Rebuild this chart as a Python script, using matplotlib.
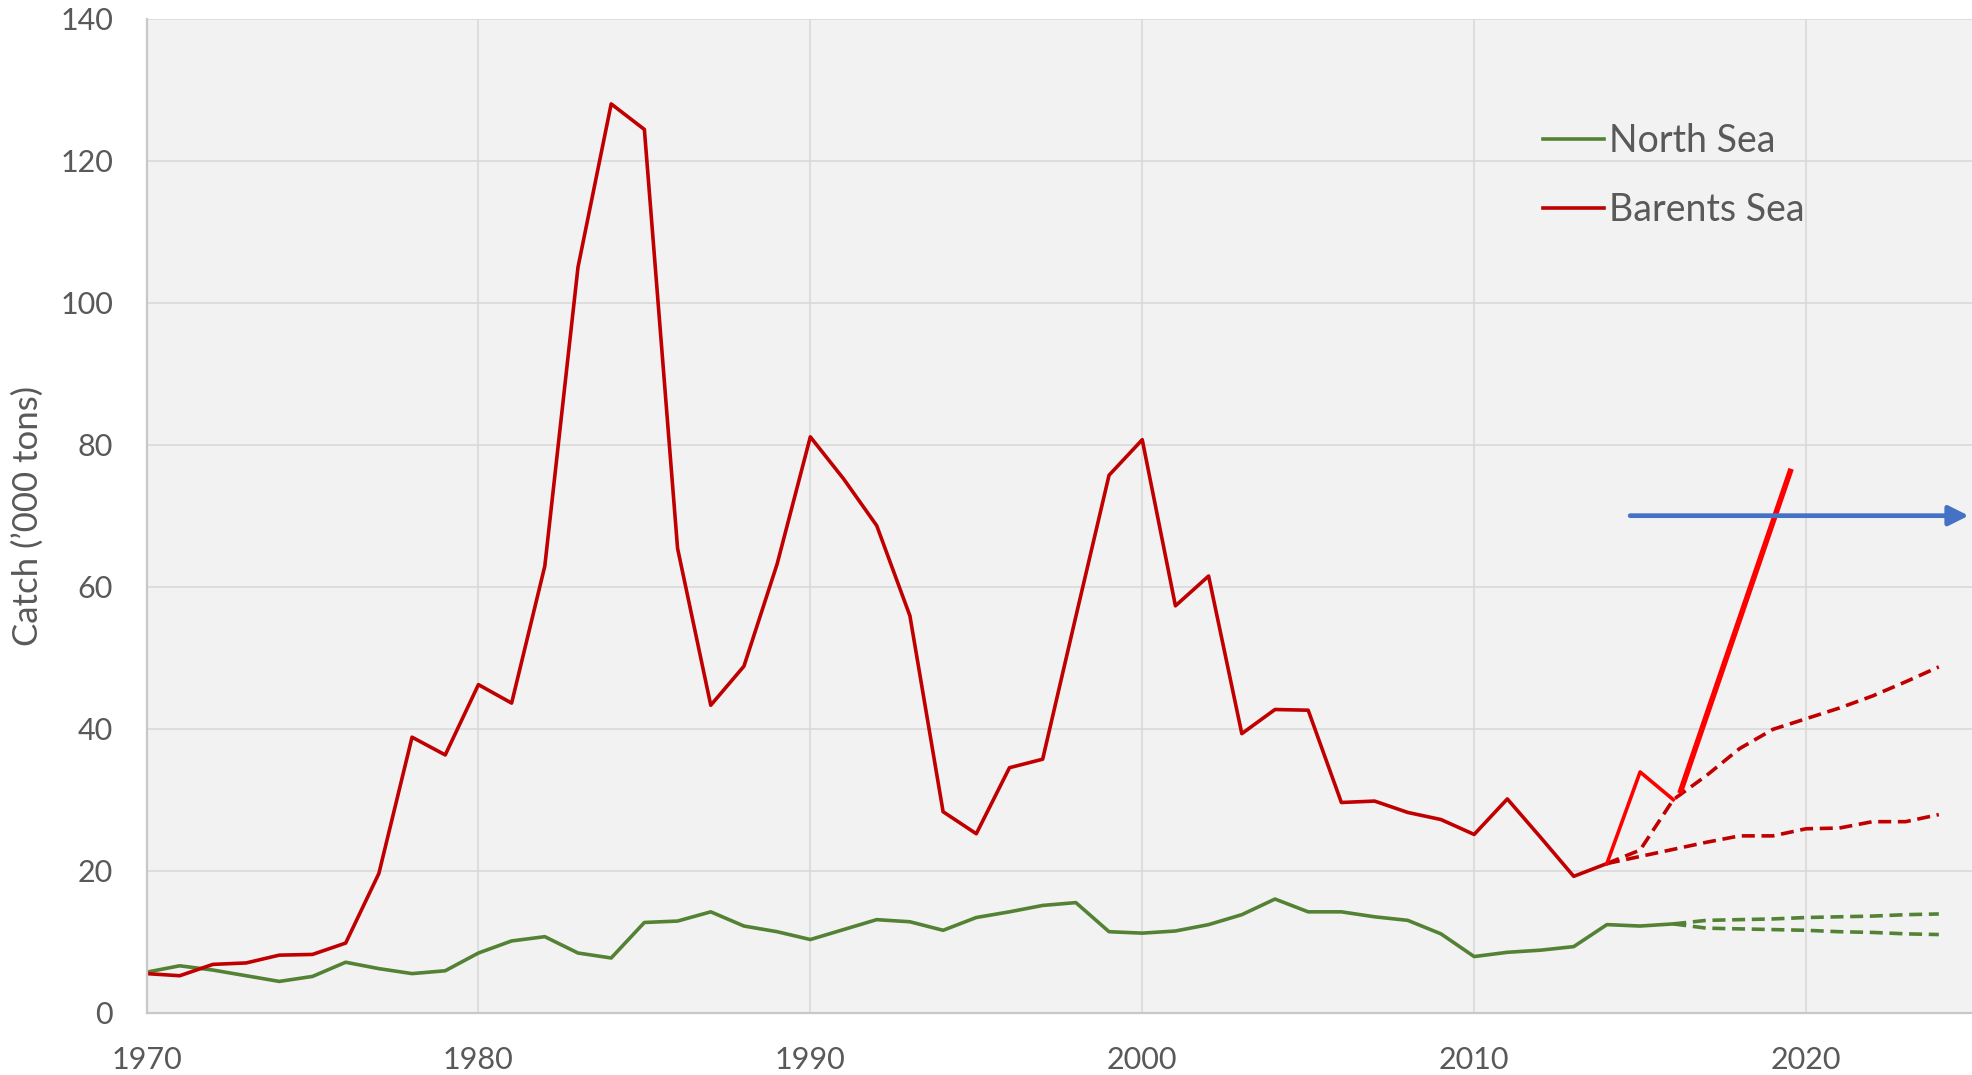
import matplotlib
matplotlib.use("Agg")
import matplotlib.pyplot as plt

plt.rcParams['font.family'] = ['Lato', 'DejaVu Sans']

# ---------------- data ----------------
years_hist = list(range(1970, 2015))
barents_hist = [5.5, 5.2, 6.8, 7.0, 8.1, 8.2, 9.8, 19.6, 38.8, 36.3,
                46.2, 43.6, 62.9, 105.0, 128.0, 124.4, 65.4, 43.3, 48.8, 63.2,
                81.1, 75.2, 68.6, 55.9, 28.3, 25.2, 34.5, 35.7, 55.8, 75.7,
                80.7, 57.3, 61.5, 39.3, 42.7, 42.6, 29.6, 29.8, 28.2, 27.2,
                25.1, 30.1, 24.7, 19.2, 21.0]

years_recent = [2014, 2015, 2016]
barents_recent = [21.0, 33.9, 30.0]

years_proj_b = list(range(2014, 2025))
barents_proj_high = [21.0, 22.9, 30.0, 33.4, 37.2, 39.9, 41.4, 42.9, 44.6, 46.6, 48.7]
barents_proj_low = [21.0, 22.0, 23.0, 24.0, 24.9, 24.9, 25.9, 26.0, 26.9, 26.9, 27.9]

years_north = list(range(1970, 2017))
north_sea = [5.7, 6.6, 6.0, 5.2, 4.4, 5.1, 7.1, 6.2, 5.5, 5.9,
             8.4, 10.1, 10.7, 8.4, 7.7, 12.7, 12.9, 14.2, 12.2, 11.4,
             10.3, 11.7, 13.1, 12.8, 11.6, 13.4, 14.2, 15.1, 15.5, 11.4,
             11.2, 11.5, 12.4, 13.8, 16.0, 14.2, 14.2, 13.5, 13.0, 11.1,
             7.9, 8.5, 8.8, 9.3, 12.4, 12.2, 12.5]

years_proj_n = list(range(2016, 2025))
north_proj_high = [12.5, 13.0, 13.1, 13.2, 13.4, 13.5, 13.6, 13.8, 13.9]
north_proj_low = [12.5, 11.9, 11.8, 11.7, 11.6, 11.4, 11.3, 11.1, 11.0]

# annotation strokes (data coordinates)
red_stroke_x = [2016.2, 2019.55]
red_stroke_y = [30.9, 76.6]
blue_arrow_x = [2014.7, 2024.9]
blue_arrow_y = [70.0, 70.0]

x_ticks = [1970, 1980, 1990, 2000, 2010, 2020]
y_ticks = [0, 20, 40, 60, 80, 100, 120, 140]
legend_labels = ["North Sea", "Barents Sea"]
y_label = "Catch (\u2019000 tons)"

# ---------------- styling ----------------
DARK_RED = "#C00000"
BRIGHT_RED = "#FF0000"
GREEN = "#548235"
BLUE = "#4472C4"
TXT = "#595959"
GRID = "#D9D9D9"

fig = plt.figure(figsize=(19.72, 10.75), dpi=100)
fig.patch.set_facecolor("white")
ax = fig.add_axes([0.0743, 0.058, 1 - 0.0743, 0.9826 - 0.058])
ax.set_facecolor("#F2F2F2")

ax.set_xlim(1970, 2025)
ax.set_ylim(0, 140)
ax.set_xticks(x_ticks)
ax.set_yticks(y_ticks)
ax.grid(True, color=GRID, linewidth=1.2)
ax.set_axisbelow(True)
for s in ["top", "right"]:
    ax.spines[s].set_visible(False)
for s in ["left", "bottom"]:
    ax.spines[s].set_color("#C8C8C8")
    ax.spines[s].set_linewidth(1.6)
ax.tick_params(axis="both", length=0, labelsize=22, labelcolor=TXT)
ax.tick_params(axis="y", pad=24)
ax.tick_params(axis="x", pad=24)

lw = 2.6
dash = (0, (3.6, 1.85))

# projections
ax.plot(years_proj_b, barents_proj_high, color=DARK_RED, lw=lw, linestyle=dash, dash_capstyle="butt")
ax.plot(years_proj_b, barents_proj_low, color=DARK_RED, lw=lw, linestyle=dash, dash_capstyle="butt")
ax.plot(years_proj_n, north_proj_high, color=GREEN, lw=lw, linestyle=dash, dash_capstyle="butt")
ax.plot(years_proj_n, north_proj_low, color=GREEN, lw=lw, linestyle=dash, dash_capstyle="butt")

# history
ln_n, = ax.plot(years_north, north_sea, color=GREEN, lw=lw)
ln_b, = ax.plot(years_hist, barents_hist, color=DARK_RED, lw=lw)
ax.plot(years_recent, barents_recent, color=BRIGHT_RED, lw=lw)

# annotation strokes
ax.plot(red_stroke_x, red_stroke_y, color=BRIGHT_RED, lw=4.0, solid_capstyle="butt")
ax.annotate("", xy=(blue_arrow_x[1], blue_arrow_y[1]), xytext=(blue_arrow_x[0], blue_arrow_y[0]),
            arrowprops=dict(arrowstyle="-|>,head_length=0.6,head_width=0.3", color=BLUE,
                            lw=3.4, shrinkA=0, shrinkB=0, mutation_scale=20),
            annotation_clip=False)

fig.text(28 / 1972, 0.5205, y_label, rotation=90, ha="center", va="center",
         fontsize=25, color=TXT)

leg = ax.legend([ln_n, ln_b], legend_labels, loc="upper left",
                bbox_to_anchor=(1543 / 1972, 1 - 123 / 1075),
                bbox_transform=fig.transFigure, frameon=False,
                fontsize=27, handlelength=1.63, handletextpad=0.13,
                labelspacing=0.87, borderpad=0, borderaxespad=0)
for t in leg.get_texts():
    t.set_color(TXT)

fig.savefig("out.png", dpi=100, facecolor="white")
